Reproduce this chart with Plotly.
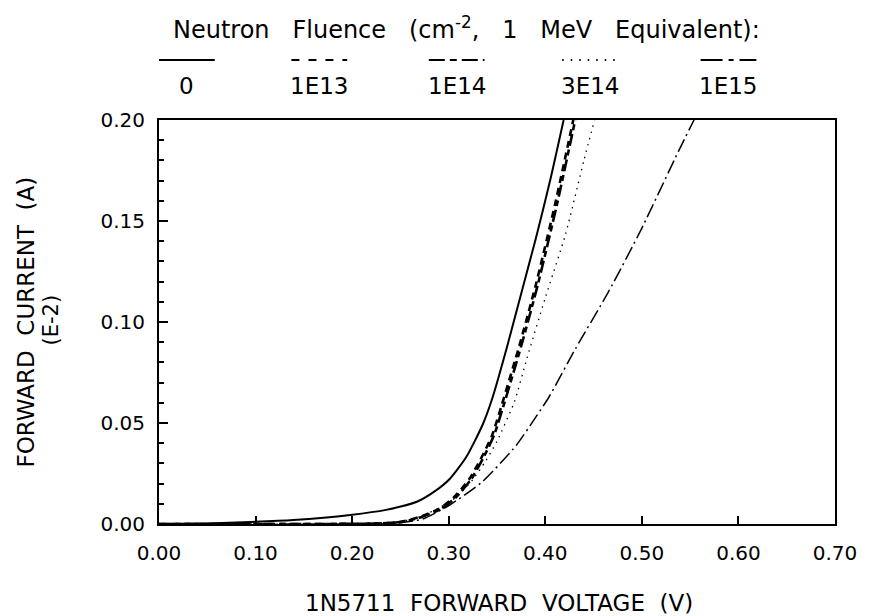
import plotly.graph_objects as go

# ---- data ----
v_0 = [0.0, 0.05, 0.095, 0.139, 0.198, 0.235, 0.267, 0.285, 0.301, 0.318, 0.335, 0.345, 0.360, 0.370, 0.390, 0.405, 0.419]
i_0 = [0.0, 0.0003, 0.001, 0.002, 0.0045, 0.007, 0.011, 0.016, 0.0223, 0.033, 0.049, 0.062, 0.087, 0.105, 0.141, 0.170, 0.200]

v_1e13 = [0.0, 0.15, 0.22, 0.249, 0.270, 0.290, 0.305, 0.321, 0.333, 0.345, 0.355, 0.373, 0.390, 0.410, 0.429]
i_1e13 = [0.0, 0.0, 0.0002, 0.001, 0.0035, 0.0075, 0.013, 0.022, 0.032, 0.044, 0.059, 0.088, 0.118, 0.158, 0.200]

v_1e14 = [0.0, 0.15, 0.222, 0.251, 0.272, 0.292, 0.307, 0.323, 0.335, 0.347, 0.357, 0.375, 0.392, 0.412, 0.431]
i_1e14 = [0.0, 0.0, 0.0002, 0.001, 0.0035, 0.0075, 0.013, 0.022, 0.032, 0.044, 0.059, 0.088, 0.118, 0.158, 0.200]

v_3e14 = [0.0, 0.15, 0.22, 0.25, 0.27, 0.29, 0.307, 0.325, 0.338, 0.350, 0.368, 0.381, 0.400, 0.421, 0.440, 0.451]
i_3e14 = [0.0, 0.0, 0.0002, 0.0012, 0.0035, 0.008, 0.013, 0.022, 0.031, 0.041, 0.0605, 0.082, 0.112, 0.1435, 0.180, 0.200]

v_1e15 = [0.0, 0.15, 0.245, 0.273, 0.301, 0.335, 0.370, 0.391, 0.404, 0.4315, 0.4655, 0.4995, 0.538, 0.554]
i_1e15 = [0.0, 0.0, 0.0003, 0.0025, 0.0094, 0.021, 0.039, 0.0535, 0.063, 0.087, 0.115, 0.146, 0.1846, 0.200]

legend_labels = ["0", "1E13", "1E14", "3E14", "1E15"]
x_ticks = [0.0, 0.1, 0.2, 0.3, 0.4, 0.5, 0.6, 0.7]
y_ticks = [0.0, 0.05, 0.10, 0.15, 0.20]

# ---- styles ----
FONT = "DejaVu Sans"
dashes = ["solid", "7px,5px", "12px,4px,6px,4px", "1.5px,5px", "14px,4px,2px,4px"]
legend_dashes = ["solid", "8px,9px", "16px,5px,7px,5px", "1.5px,7px", "22px,6px,5px,6px"]
widths = [2.0, 2.6, 2.6, 1.3, 1.5]
series = [(v_0, i_0), (v_1e13, i_1e13), (v_1e14, i_1e14), (v_3e14, i_3e14), (v_1e15, i_1e15)]

fig = go.Figure()
for (vx, iy), lab, d, w in zip(series, legend_labels, dashes, widths):
    fig.add_trace(go.Scatter(x=vx, y=iy, mode="lines", name=lab,
                             line=dict(color="black", dash=d, width=w, shape="spline", smoothing=0.6),
                             showlegend=False))

W, H = 869, 616
L, R, T, B = 159, 31, 120, 92
pw, ph = W - L - R, H - T - B

def px2paper(px, py):
    return (px - L) / pw, (H - B - py) / ph

# custom legend: line samples above labels
centers = [187, 320, 458, 592, 731]
for cx, lab, d in zip(centers, legend_labels, legend_dashes):
    x0, y0 = px2paper(cx - 28, 60)
    x1, _ = px2paper(cx + 28, 60)
    fig.add_shape(type="line", xref="paper", yref="paper", x0=x0, x1=x1, y0=y0, y1=y0,
                  line=dict(color="black", width=2, dash=d))
    lx, ly = px2paper(cx, 86)
    fig.add_annotation(text=lab, xref="paper", yref="paper", x=lx, y=ly, showarrow=False,
                       font=dict(family=FONT, size=23, color="black"), xanchor="center", yanchor="middle")

tx, ty = px2paper(468, 28)
fig.add_annotation(text="Neutron   Fluence   (cm<sup>-2</sup>,   1   MeV   Equivalent):", xref="paper", yref="paper",
                   x=tx, y=ty, showarrow=False, font=dict(family=FONT, size=24, color="black"),
                   xanchor="center", yanchor="middle")

# axis titles
ax_, ay_ = px2paper(501, 603)
fig.add_annotation(text="1N5711  FORWARD  VOLTAGE  (V)", xref="paper", yref="paper", x=ax_, y=ay_,
                   showarrow=False, font=dict(family=FONT, size=23, color="black"),
                   xanchor="center", yanchor="middle")
y1x, y1y = px2paper(25, 322)
fig.add_annotation(text="FORWARD  CURRENT  (A)", xref="paper", yref="paper", x=y1x, y=y1y, textangle=-90,
                   showarrow=False, font=dict(family=FONT, size=23, color="black"),
                   xanchor="center", yanchor="middle")
y2x, y2y = px2paper(51, 320)
fig.add_annotation(text="(E-2)", xref="paper", yref="paper", x=y2x, y=y2y, textangle=-90,
                   showarrow=False, font=dict(family=FONT, size=21, color="black"),
                   xanchor="center", yanchor="middle")

fig.update_layout(
    width=W, height=H,
    margin=dict(l=L, r=R, t=T, b=B),
    paper_bgcolor="white", plot_bgcolor="white",
    font=dict(family=FONT, size=20, color="black"),
    xaxis=dict(range=[0, 0.7], tickvals=x_ticks, ticktext=[f"{t:.2f}" for t in x_ticks],
               ticks="inside", ticklen=8, tickwidth=1.5, tickcolor="black", ticklabelstandoff=10,
               showline=True, linecolor="black", linewidth=2, mirror=True,
               showgrid=False, zeroline=False, tickfont=dict(family=FONT, size=20)),
    yaxis=dict(range=[0, 0.2], tickvals=y_ticks, ticktext=[f"{t:.2f}" for t in y_ticks],
               ticks="inside", ticklen=9, tickwidth=2, tickcolor="black", ticklabelstandoff=8,
               minor=dict(dtick=0.01, ticks="inside", ticklen=5, tickwidth=1.5, tickcolor="black"),
               showline=True, linecolor="black", linewidth=2, mirror=True,
               showgrid=False, zeroline=False, tickfont=dict(family=FONT, size=20)),
)

fig.write_html("out.html")
